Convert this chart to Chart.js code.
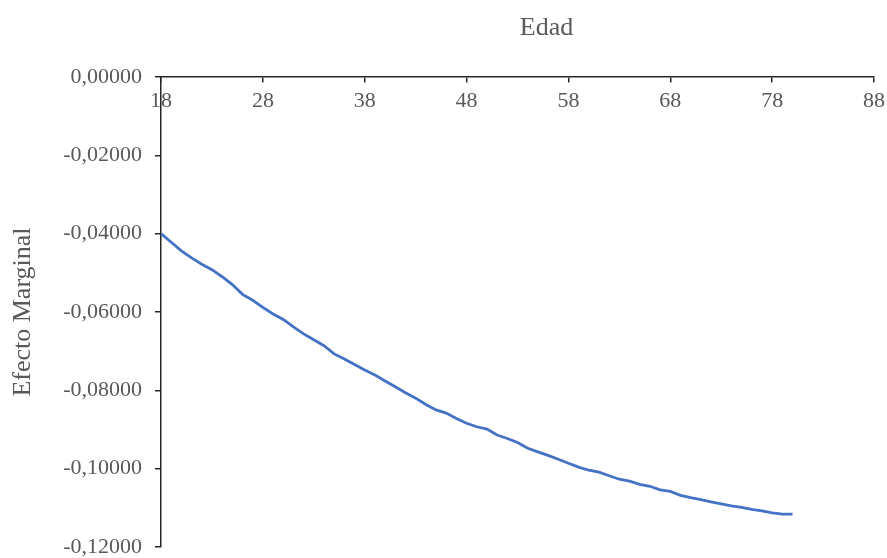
<!DOCTYPE html>
<html lang="es">
<head>
<meta charset="UTF-8">
<title>Efecto Marginal - Edad</title>
<script src="https://cdn.jsdelivr.net/npm/chart.js@4.4.1/dist/chart.umd.min.js"></script>
<style>
  html, body { margin: 0; padding: 0; background: #fff; overflow: hidden; }
  /* the chart runs a little past the frame, so the last y label gets clipped like the original */
  #wrap { width: 887px; height: 558px; overflow: hidden; }
</style>
</head>
<body>
<div id="wrap"><canvas id="chart" width="891" height="571"></canvas></div>
<script>
// ages
const edades = [18, 19, 20, 21, 22, 23, 24, 25, 26, 27, 28, 29, 30, 31, 32, 33, 34, 35, 36, 37,
  38, 39, 40, 41, 42, 43, 44, 45, 46, 47, 48, 49, 50, 51, 52, 53, 54, 55, 56, 57,
  58, 59, 60, 61, 62, 63, 64, 65, 66, 67, 68, 69, 70, 71, 72, 73, 74, 75, 76, 77,
  78, 79, 80];
const efectoMarginal = [-0.0400, -0.0422, -0.0444, -0.0462, -0.0478, -0.0492, -0.0510, -0.0530, -0.0555, -0.0570,
  -0.0588, -0.0605, -0.0619, -0.0638, -0.0656, -0.0671, -0.0686, -0.0707, -0.0720, -0.0734,
  -0.0748, -0.0761, -0.0776, -0.0791, -0.0806, -0.0820, -0.0836, -0.0850, -0.0858, -0.0872,
  -0.0884, -0.0893, -0.0899, -0.0914, -0.0923, -0.0933, -0.0948, -0.0957, -0.0966, -0.0976,
  -0.0986, -0.0996, -0.1004, -0.1009, -0.1018, -0.1027, -0.1032, -0.1040, -0.1045, -0.1054,
  -0.1058, -0.1068, -0.1074, -0.1079, -0.1085, -0.1090, -0.1095, -0.1099, -0.1104, -0.1108,
  -0.1113, -0.1116, -0.1116];

const xMin = 18, xMax = 88, xStep = 10;
const yMin = -0.12, yMax = 0, yStep = 0.02;

const textColor = '#595959';
const axisColor = '#262626';
const serif = "'Liberation Serif', 'Times New Roman', serif";

const puntos = edades.map((e, i) => ({ x: e, y: efectoMarginal[i] }));

// x axis title sits above the axis, a bit right of centre
const edadTitle = {
  id: 'edadTitle',
  afterDraw(chart) {
    const ctx = chart.ctx;
    const area = chart.chartArea;
    ctx.save();
    ctx.font = '26px ' + serif;
    ctx.fillStyle = textColor;
    ctx.textAlign = 'center';
    ctx.textBaseline = 'alphabetic';
    ctx.fillText('Edad', (area.left + area.right) / 2 + 29, 35);
    ctx.restore();
  }
};

new Chart(document.getElementById('chart'), {
  type: 'line',
  data: {
    datasets: [{
      data: puntos,
      borderColor: '#4472C4',
      borderWidth: 2.8,
      pointRadius: 0,
      tension: 0,
      fill: false
    }]
  },
  options: {
    responsive: false,
    animation: false,
    layout: { padding: { top: 77, right: 8, bottom: 0, left: 4 } },
    plugins: {
      legend: { display: false },
      tooltip: { enabled: false }
    },
    scales: {
      x: {
        type: 'linear',
        position: { y: 0 },
        min: xMin,
        max: xMax,
        border: { display: true, color: axisColor, width: 1.5 },
        grid: { display: true, drawOnChartArea: false, drawTicks: true, tickLength: 5, color: axisColor, lineWidth: 1.5 },
        ticks: {
          stepSize: xStep,
          padding: 6,
          color: textColor,
          font: { family: serif, size: 22 },
          maxRotation: 0,
          callback: v => String(v)
        }
      },
      y: {
        type: 'linear',
        position: 'left',
        min: yMin,
        max: yMax,
        border: { display: true, color: axisColor, width: 1.5 },
        grid: { display: true, drawOnChartArea: false, drawTicks: true, tickLength: 6, color: axisColor, lineWidth: 1.5 },
        title: {
          display: true,
          text: 'Efecto Marginal',
          color: textColor,
          font: { family: serif, size: 26 },
          padding: { top: 4, bottom: 11 }
        },
        ticks: {
          stepSize: yStep,
          padding: 13,
          color: textColor,
          font: { family: serif, size: 22, lineHeight: 1 },
          callback: v => {
            const n = Math.abs(v) < 1e-9 ? 0 : v;
            return n.toFixed(5).replace('.', ',');
          }
        }
      }
    }
  },
  plugins: [edadTitle]
});
</script>
</body>
</html>
